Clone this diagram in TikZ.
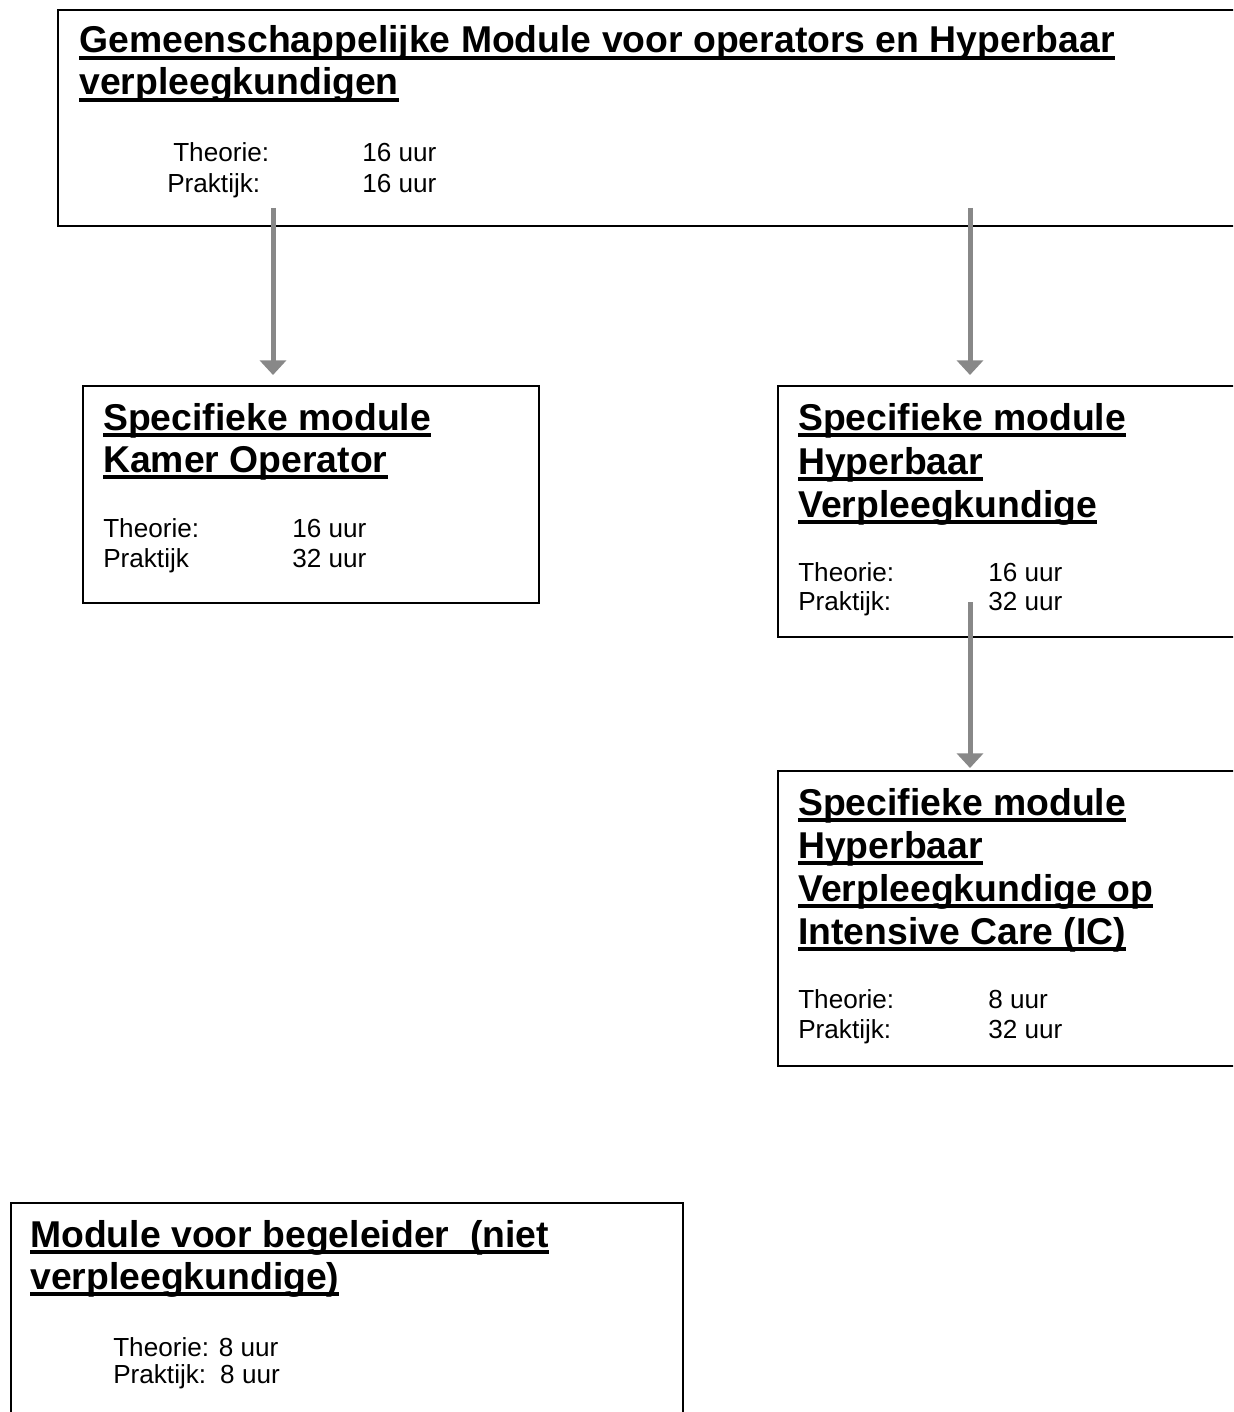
\documentclass[tikz,border=0pt]{standalone}
\usepackage{fontspec}
\setmainfont{Liberation Sans}
\newsavebox\myulsave
\newcommand\myul[1]{\sbox\myulsave{#1}\rlap{\rule[-5.6pt]{\wd\myulsave}{3pt}}\usebox\myulsave}
\usetikzlibrary{arrows.meta}
\definecolor{arrgray}{HTML}{888888}
\tikzset{
  box/.style={draw=black, line width=1.5pt, rectangle, anchor=north west, inner sep=0pt, fill=none},
  ttl/.style={anchor=base west, inner sep=0pt, font=\fontsize{28pt}{33pt}\selectfont\bfseries},
  txt/.style={anchor=base west, inner sep=0pt, font=\fontsize{19.6pt}{23pt}\selectfont},
  arr/.style={draw=arrgray, line width=3.75pt, -{Triangle[width=19.5pt,length=11pt]}, arrgray}
}
\begin{document}
\begin{tikzpicture}[x=0.75pt,y=-0.75pt]
\clip (0,0) rectangle (1233,1412);
\fill[white] (0,0) rectangle (1233,1412);
% boxes
\node[box, minimum width=891pt, minimum height=162pt] (top) at (57,9) {};
\node[box, minimum width=342pt, minimum height=162.75pt] (kamer) at (82,385) {};
\node[box, minimum width=351pt, minimum height=188.25pt] (hyper) at (777,385) {};
\node[box, minimum width=351pt, minimum height=221.25pt] (ic) at (777,770) {};
\node[box, minimum width=504pt, minimum height=167.25pt] (beg) at (10,1202) {};
% top box text
\node[ttl] (t1) at (79,53) {\myul{Gemeenschappelijke Module voor operators en Hyperbaar}};
\node[ttl] (t2) at (79,95) {\myul{verpleegkundigen}};
\node[txt] (t3) at (173,162) {Theorie:};
\node[txt] (t4) at (167,193) {Praktijk:};
\node[txt] (t5) at (362,162) {16 uur};
\node[txt] (t6) at (362,193) {16 uur};
% kamer box text
\node[ttl] (k1) at (103,430) {\myul{Specifieke module}};
\node[ttl] (k2) at (103,472) {\myul{Kamer Operator}};
\node[txt] (k3) at (103,537) {Theorie:};
\node[txt] (k4) at (103,567) {Praktijk};
\node[txt] (k5) at (292,537) {16 uur};
\node[txt] (k6) at (292,567) {32 uur};
% hyper box text
\node[ttl] (h1) at (798,430) {\myul{Specifieke module}};
\node[ttl] (h2) at (798,474) {\myul{Hyperbaar}};
\node[ttl] (h3) at (798,517) {\myul{Verpleegkundige}};
\node[txt] (h4) at (798,581) {Theorie:};
\node[txt] (h5) at (798,610) {Praktijk:};
\node[txt] (h6) at (988,581) {16 uur};
\node[txt] (h7) at (988,610) {32 uur};
% ic box text
\node[ttl] (i1) at (798,815) {\myul{Specifieke module}};
\node[ttl] (i2) at (798,858) {\myul{Hyperbaar}};
\node[ttl] (i3) at (798,901) {\myul{Verpleegkundige op}};
\node[ttl] (i4) at (798,944) {\myul{Intensive Care (IC)}};
\node[txt] (i5) at (798,1008) {Theorie:};
\node[txt] (i6) at (798,1038) {Praktijk:};
\node[txt] (i7) at (988,1008) {8 uur};
\node[txt] (i8) at (988,1038) {32 uur};
% begeleider box text
\node[ttl] (b1) at (30,1247) {\myul{Module voor begeleider\ \ (niet}};
\node[ttl] (b2) at (30,1289) {\myul{verpleegkundige)}};
\node[txt] (b3) at (113,1356) {Theorie: 8 uur};
\node[txt] (b4) at (113,1383) {Praktijk:\, 8 uur};
% connectors
\coordinate (s1) at (273,208);
\coordinate (s2) at (970,208);
\coordinate (s3) at (970,602);
\draw[arr] (s1) -- ([yshift=7.5pt]s1 |- kamer.north);
\draw[arr] (s2) -- ([yshift=7.5pt]s2 |- hyper.north);
\draw[arr] (s3) -- ([yshift=1.5pt]s3 |- ic.north);
\end{tikzpicture}
\end{document}
